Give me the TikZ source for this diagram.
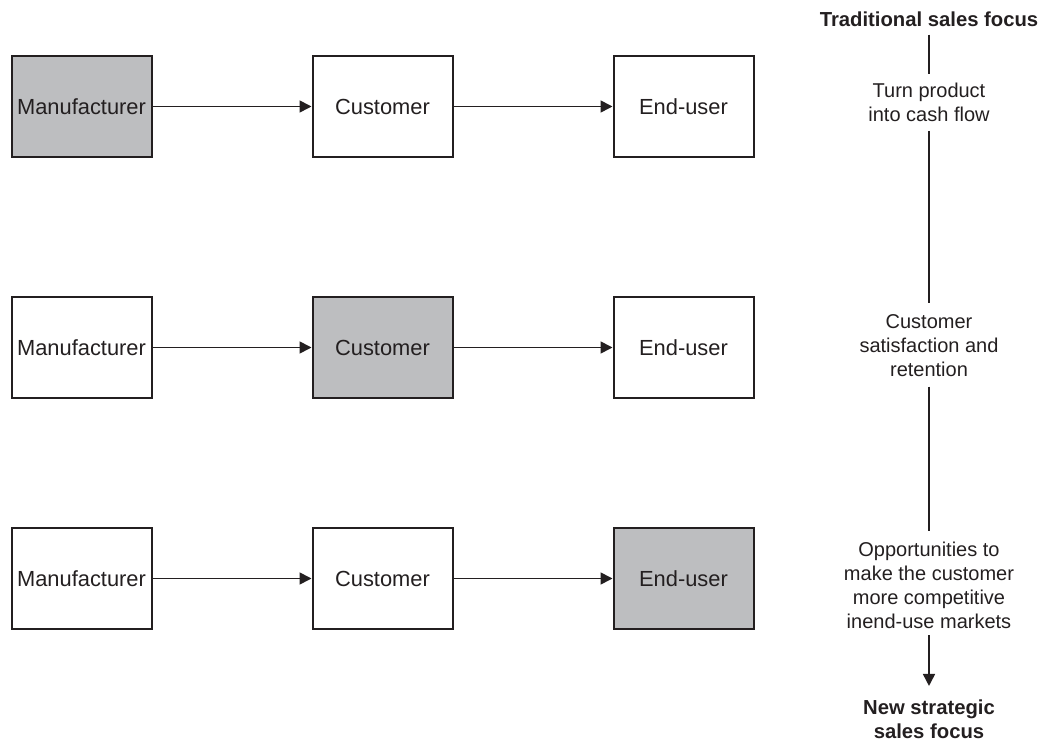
\documentclass[tikz,border=0pt]{standalone}
\usepackage{fontspec}
\setmainfont{Liberation Sans}
\usetikzlibrary{arrows.meta}
\definecolor{ink}{HTML}{231F20}
\definecolor{shade}{HTML}{BDBEC0}
\begin{document}
\begin{tikzpicture}[x=0.75pt,y=-0.75pt,
  box/.style={draw=ink,line width=1.5pt,minimum width=105pt,minimum height=75.5pt,inner sep=0pt,text=ink,font=\fontsize{16.4}{19}\selectfont},
  hl/.style={box,fill=shade},
  flow/.style={draw=ink,line width=1.25pt,-{Triangle[length=9pt,width=9pt]}},
  side/.style={text=ink,align=center,inner sep=0pt,font=\fontsize{15}{18}\selectfont},
  sideb/.style={side,font=\fontsize{15.2}{18}\selectfont\bfseries},
  vline/.style={draw=ink,line width=1.25pt}]
\useasboundingbox (0,0) rectangle (1039,741);
% row 1
\node[hl]  (m1) at (81.5,106.5) {Manufacturer};
\node[box] (c1) at (382.5,106.5) {Customer};
\node[box] (e1) at (683.5,106.5) {End-user};
% row 2
\node[box] (m2) at (81.5,347.5) {Manufacturer};
\node[hl]  (c2) at (382.5,347.5) {Customer};
\node[box] (e2) at (683.5,347.5) {End-user};
% row 3
\node[box] (m3) at (81.5,578.5) {Manufacturer};
\node[box] (c3) at (382.5,578.5) {Customer};
\node[hl]  (e3) at (683.5,578.5) {End-user};
\foreach \r in {1,2,3}{
  \draw[flow] (m\r) -- (c\r);
  \draw[flow] (c\r) -- (e\r);
}
% right column
\node[sideb] (trad) at (929,19) {Traditional sales focus};
\node[side] (turn) at (929,102) {Turn product\\into cash flow};
\node[side] (sat) at (929,346) {Customer\\satisfaction and\\retention};
\node[side] (opp) at (929,585) {Opportunities to\\make the customer\\more competitive\\inend-use markets};
\node[sideb] (new) at (929,719) {New strategic\\sales focus};
\draw[vline,shorten <=6pt,shorten >=6pt] (trad) -- (turn);
\draw[vline,shorten <=7pt,shorten >=9pt] (turn) -- (sat);
\draw[vline,shorten <=7pt,shorten >=8pt] (sat) -- (opp);
\draw[flow,shorten <=5pt,shorten >=10pt] (opp) -- (new);
\end{tikzpicture}
\end{document}
